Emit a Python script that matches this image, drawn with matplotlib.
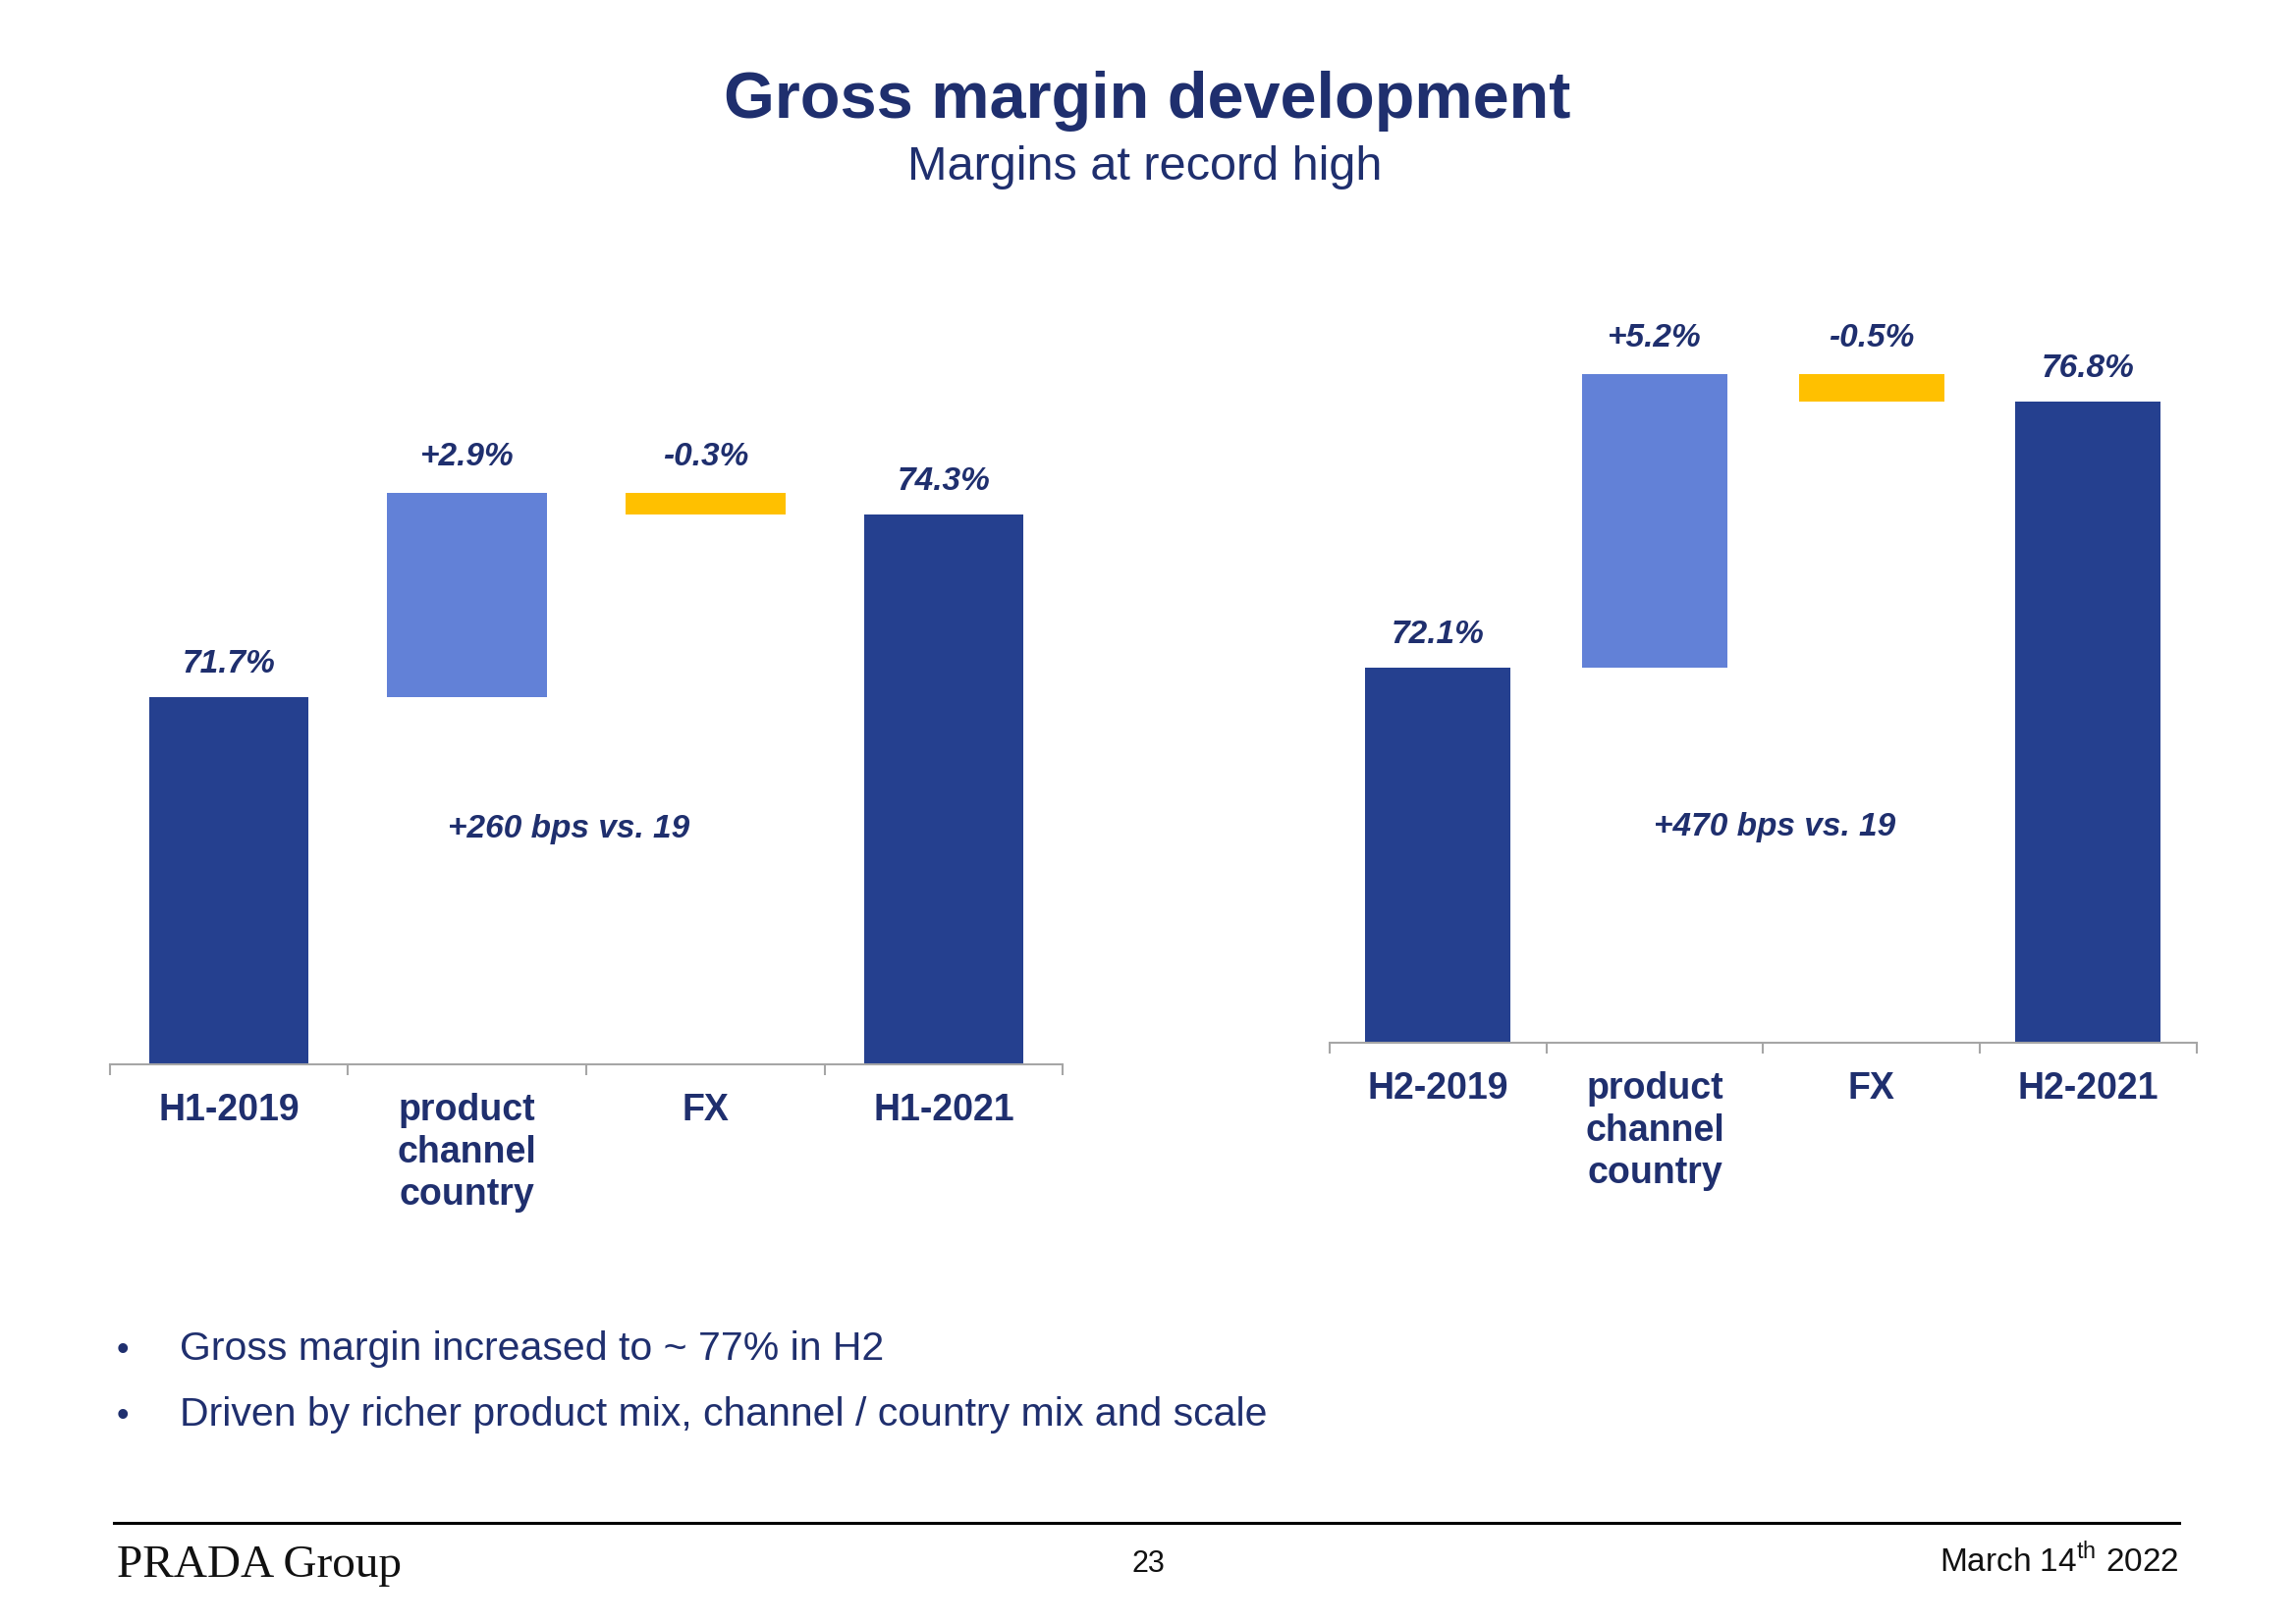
import matplotlib.pyplot as plt

plt.rcParams['font.family'] = ['Liberation Sans', 'DejaVu Sans']
plt.rcParams['mathtext.fontset'] = 'custom'
plt.rcParams['mathtext.rm'] = 'Liberation Sans'

NAVY = '#25408f'
LIGHT = '#6281d7'
YELLOW = '#ffc000'
TEXT = '#1f2f6e'
GREY = '#a6a6a6'

# H1 bridge
h1_labels = ['H1-2019', 'product\nchannel\ncountry', 'FX', 'H1-2021']
h1_start = 71.7
h1_deltas = [2.9, -0.3]
h1_end = 74.3
h1_value_labels = ['71.7%', '+2.9%', '-0.3%', '74.3%']
h1_note = '+260 bps vs. 19'

# H2 bridge
h2_labels = ['H2-2019', 'product\nchannel\ncountry', 'FX', 'H2-2021']
h2_start = 72.1
h2_deltas = [5.2, -0.5]
h2_end = 76.8
h2_value_labels = ['72.1%', '+5.2%', '-0.5%', '76.8%']
h2_note = '+470 bps vs. 19'

bullets = ['Gross margin increased to ~ 77% in H2',
           'Driven by richer product mix, channel / country mix and scale']


def draw_bridge(ax, labels, start, deltas, end, value_labels, note, ylim, note_xy):
    bottoms, heights, colors = [0], [start], [NAVY]
    level = start
    for d in deltas:
        bottoms.append(min(level, level + d))
        heights.append(abs(d))
        colors.append(LIGHT if d > 0 else YELLOW)
        level += d
    bottoms.append(0)
    heights.append(end)
    colors.append(NAVY)

    x = list(range(len(labels)))
    ax.bar(x, heights, bottom=bottoms, width=0.67, color=colors)

    for i, (b, h, lab) in enumerate(zip(bottoms, heights, value_labels)):
        off = 13 if i in (0, len(labels) - 1) else 15
        ax.annotate(lab, (i, b + h), xytext=(0, off), textcoords='offset points',
                    ha='center', va='bottom', fontsize=24, fontweight='bold',
                    fontstyle='italic', color=TEXT)

    ax.text(note_xy[0], note_xy[1], note, transform=ax.transAxes, ha='center',
            va='center', fontsize=24, fontweight='bold', fontstyle='italic', color=TEXT)

    ax.set_xlim(-0.5, len(labels) - 0.5)
    ax.set_ylim(*ylim)
    ax.set_xticks(x)
    ax.set_xticklabels(labels, fontsize=27, fontweight='bold', color=TEXT, linespacing=1.25)
    ax.set_xticks([i - 0.5 for i in range(len(labels) + 1)], minor=True)
    ax.tick_params(axis='x', which='major', length=0, pad=21)
    ax.tick_params(axis='x', which='minor', length=8, width=1.5, color=GREY)
    ax.set_yticks([])
    for s in ['top', 'left', 'right']:
        ax.spines[s].set_visible(False)
    ax.spines['bottom'].set_color(GREY)
    ax.spines['bottom'].set_linewidth(1.5)


fig = plt.figure(figsize=(23.38, 16.54), dpi=100)

ax1 = fig.add_axes([0.0478, 0.3445, 0.4152, 0.4752])
draw_bridge(ax1, h1_labels, h1_start, h1_deltas, h1_end, h1_value_labels, h1_note,
            (66.47, 77.45), (0.481, 0.3055))

ax2 = fig.add_axes([0.5791, 0.3580, 0.3776, 0.4617])
draw_bridge(ax2, h2_labels, h2_start, h2_deltas, h2_end, h2_value_labels, h2_note,
            (65.47, 78.73), (0.5135, 0.287))

fig.text(0.4996, 0.9274, 'Gross margin development', ha='center', va='baseline',
         fontsize=48, fontweight='bold', color=TEXT)
fig.text(0.4987, 0.8894, 'Margins at record high', ha='center', va='baseline',
         fontsize=35, color=TEXT)

for y, line in zip([0.1626, 0.1221], bullets):
    fig.text(0.0535, y, '\u2022', ha='center', va='baseline', fontsize=26, color=TEXT)
    fig.text(0.0783, y, line, ha='left', va='baseline', fontsize=29.5, color=TEXT)

# footer
fig.add_artist(plt.Line2D([0.0496, 0.9491], [0.0623, 0.0623], color='black', lw=2.2))
fig.text(0.0509, 0.029, 'PRADA Group', ha='left', va='baseline', fontsize=34,
         family='Liberation Serif', color='#111111')
fig.text(0.5004, 0.032, '23', ha='center', va='baseline', fontsize=22, color='#111111')
fig.text(0.9491, 0.032, r'March 14$^{\mathrm{th}}$ 2022', ha='right', va='baseline',
         fontsize=24, color='#111111')

fig.savefig('out.png', dpi=100, facecolor='white')
